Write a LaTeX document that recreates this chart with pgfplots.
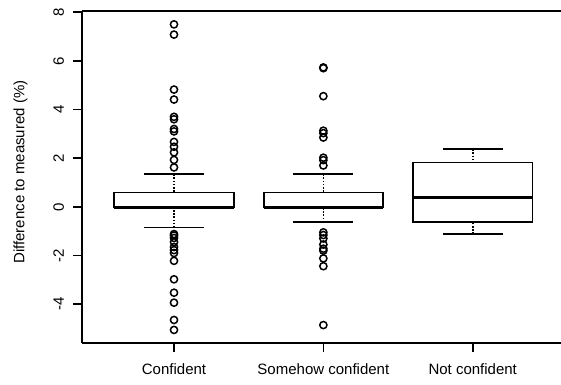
\documentclass[border=0pt]{standalone}
\usepackage{fontspec}
\setmainfont{Liberation Sans}
\usepackage{pgfplots}
\pgfplotsset{compat=1.18}
\usepgfplotslibrary{statistics}
\pgfplotsset{
  /pgfplots/boxplot/draw/box/.code={%
    \draw[line width=1.8bp,black]
      (boxplot box cs:\pgfplotsboxplotvalue{lower quartile},0)
      rectangle
      (boxplot box cs:\pgfplotsboxplotvalue{upper quartile},1);
  },
  /pgfplots/boxplot/draw/median/.code={%
    \draw[line width=3.5bp,black]
      (boxplot box cs:\pgfplotsboxplotvalue{median},0)
      --
      (boxplot box cs:\pgfplotsboxplotvalue{median},1);
  },
  /pgfplots/boxplot/draw/lower whisker/.code={%
    \draw[line width=1.6bp,black,dash pattern=on 1.6bp off 1.6bp]
      (boxplot box cs:\pgfplotsboxplotvalue{lower whisker},0.5)
      --
      (boxplot box cs:\pgfplotsboxplotvalue{lower quartile},0.5);
    \draw[line width=1.8bp,black]
      (boxplot whisker cs:\pgfplotsboxplotvalue{lower whisker},0)
      --
      (boxplot whisker cs:\pgfplotsboxplotvalue{lower whisker},1);
  },
  /pgfplots/boxplot/draw/upper whisker/.code={%
    \draw[line width=1.6bp,black,dash pattern=on 1.6bp off 1.6bp]
      (boxplot box cs:\pgfplotsboxplotvalue{upper whisker},0.5)
      --
      (boxplot box cs:\pgfplotsboxplotvalue{upper quartile},0.5);
    \draw[line width=1.8bp,black]
      (boxplot whisker cs:\pgfplotsboxplotvalue{upper whisker},0)
      --
      (boxplot whisker cs:\pgfplotsboxplotvalue{upper whisker},1);
  },
}
\begin{document}
\fontsize{15bp}{18bp}\selectfont
\begin{tikzpicture}
\useasboundingbox (0,0) rectangle (561bp,385bp);
\begin{axis}[
  at={(81.7bp,41.7bp)}, anchor=south west,
  scale only axis, width=479.3bp, height=332.3bp,
  xmin=0.382, xmax=3.591, ymin=-5.61, ymax=8.05,
  boxplot/draw direction=y,
  axis x line=box, axis y line=left,
  x axis line style={-}, y axis line style={-},
  axis line style={line width=1.7bp, black},
  xtick={1,2,3}, xticklabels={Confident,Somehow confident,Not confident},
  ytick={-4,-2,0,2,4,6,8}, yticklabels={-4,-2,0,2,4,6,8},
  xtick pos=left, ytick pos=left,
  tick align=outside, major tick length=8.5bp,
  major tick style={line width=1.6bp, black},
  xticklabel style={anchor=north, inner sep=0pt},
  xticklabel shift=12bp,
  yticklabel style={rotate=90, anchor=south, inner sep=0pt},
  yticklabel shift=9bp,
  ylabel={Difference to measured (\%)},
  every axis y label/.style={at={(axis description cs:-0.1277,0.515)}, rotate=90, anchor=center, inner sep=0pt},
]
\addplot[black, mark=o, mark size=3.6bp, mark options={line width=1.5bp, solid},
  boxplot prepared={draw position=1, median=-0.02, upper quartile=0.59,
    lower quartile=-0.02, upper whisker=1.34, lower whisker=-0.85,
    box extend=0.8, whisker extend=0.4}]
  table[row sep=\\, y index=0] {data\\ 7.50\\ 7.08\\ 4.82\\ 4.41\\ 3.70\\ 3.60\\ 3.20\\ 3.10\\ 2.67\\ 2.47\\ 2.24\\ 1.93\\ 1.62\\
  -1.12\\ -1.18\\ -1.28\\ -1.45\\ -1.65\\ -1.78\\ -1.90\\ -2.22\\ -2.98\\ -3.53\\ -3.94\\ -4.65\\ -5.06\\};
\addplot[black, mark=o, mark size=3.6bp, mark options={line width=1.5bp, solid},
  boxplot prepared={draw position=2, median=-0.02, upper quartile=0.59,
    lower quartile=-0.02, upper whisker=1.34, lower whisker=-0.64,
    box extend=0.8, whisker extend=0.4}]
  table[row sep=\\, y index=0] {data\\ 5.73\\ 5.70\\ 4.55\\ 3.13\\ 3.03\\ 2.85\\ 2.02\\ 1.92\\ 1.70\\
  -1.05\\ -1.16\\ -1.30\\ -1.55\\ -1.72\\ -1.80\\ -2.12\\ -2.44\\ -4.86\\};
\addplot[black, mark=o, mark size=3.6bp, mark options={line width=1.5bp, solid},
  boxplot prepared={draw position=3, median=0.39, upper quartile=1.82,
    lower quartile=-0.62, upper whisker=2.37, lower whisker=-1.12,
    box extend=0.8, whisker extend=0.4}]
  table[row sep=\\, y index=0] {data\\};
\end{axis}
\end{tikzpicture}
\end{document}
